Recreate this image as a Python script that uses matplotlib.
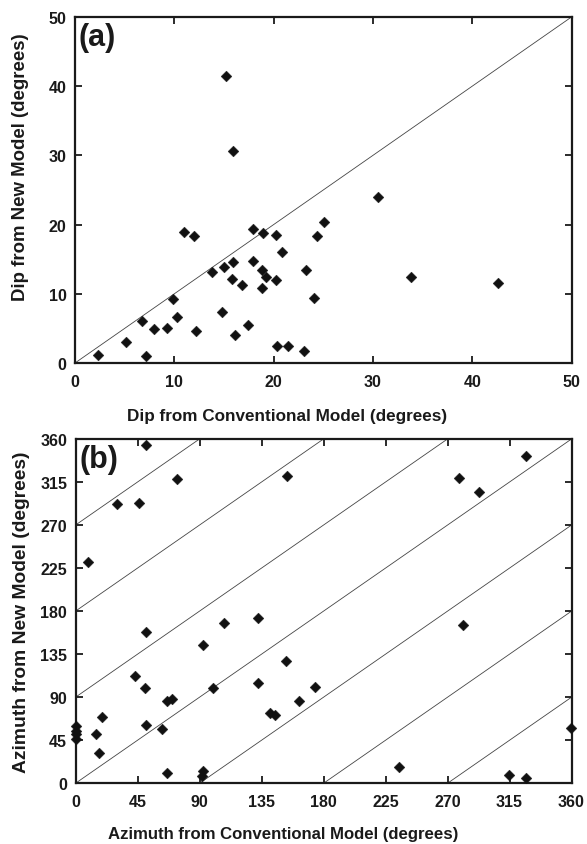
import matplotlib
matplotlib.use("Agg")
import matplotlib.pyplot as plt
import numpy as np

plt.rcParams['font.family'] = ['Liberation Sans', 'DejaVu Sans']

# Panel (a): dip values (degrees)
dip_conv = [2.35, 5.1, 7.2, 6.7, 8.0, 9.3, 9.9, 10.3, 10.95, 12.0, 12.2, 13.8, 14.8,
            15.0, 15.9, 15.85, 16.1, 16.8, 17.4, 17.9, 17.9, 18.85, 19.2, 18.85, 18.95,
            20.2, 20.2, 20.3, 20.8, 21.5, 23.1, 23.25, 24.05, 24.4, 25.1, 30.5, 33.8,
            42.6, 15.2, 15.95]
dip_new = [1.2, 3.1, 1.0, 6.0, 4.9, 5.0, 9.2, 6.7, 18.9, 18.4, 4.6, 13.2, 7.3,
           13.9, 14.6, 12.1, 4.1, 11.3, 5.5, 19.3, 14.8, 13.4, 12.5, 10.8, 18.8,
           18.5, 12.0, 2.5, 16.1, 2.4, 1.8, 13.5, 9.35, 18.4, 20.4, 24.0, 12.4,
           11.6, 41.5, 30.6]

# Panel (b): azimuth values (degrees)
az_conv = [51.2, 30.1, 45.8, 73.9, 153.2, 9.3, 107.8, 132.2, 51.2, 92.8, 153.0, 43.0,
           50.2, 100.0, 132.2, 174.0, 66.2, 69.8, 162.4, 141.1, 144.8, 19.0, 51.2,
           63.0, 14.9, 17.2, 0.4, 0.5, 0.4, 0.4, 66.2, 92.8, 91.8, 327.2, 278.1,
           293.0, 281.0, 359.6, 234.8, 314.8, 327.2]
az_new = [353.3, 292.0, 293.3, 318.0, 320.9, 231.6, 167.4, 173.3, 158.7, 144.7, 128.0,
          112.0, 99.4, 99.7, 104.6, 100.5, 85.8, 87.9, 86.4, 73.9, 71.1, 69.2, 61.3,
          56.5, 51.5, 32.0, 60.3, 55.0, 51.6, 46.4, 11.1, 13.2, 8.0, 342.5, 319.2,
          304.5, 165.3, 57.5, 17.4, 9.0, 5.2]

dip_ticks = [0, 10, 20, 30, 40, 50]
az_ticks = [0, 45, 90, 135, 180, 225, 270, 315, 360]
az_offsets = [-270, -180, -90, 0, 90, 180, 270]

W, H = 587, 845
fig = plt.figure(figsize=(W / 100, H / 100), dpi=100)

ax1 = fig.add_axes([75 / W, 1 - 364 / H, 496.5 / W, 346 / H])
ax2 = fig.add_axes([75.5 / W, 1 - 784.3 / H, 496 / W, 344.3 / H])

tick_kw = dict(direction='in', length=5, width=1.3, top=True, right=True,
               labelsize=11.5, colors='#1a1a1a')

def style(ax):
    for s in ax.spines.values():
        s.set_linewidth(1.6)
        s.set_color('#1a1a1a')
    ax.tick_params(axis='both', which='both', **tick_kw)
    ax.tick_params(axis='x', pad=8)
    ax.tick_params(axis='y', pad=6)
    for lab in ax.get_xticklabels() + ax.get_yticklabels():
        lab.set_fontweight('bold')

mk = dict(marker='D', s=30, color='#111111', linewidths=0.3, clip_on=False, zorder=3)

# Panel (a)
ax1.plot([0, 50], [0, 50], color='#444444', lw=0.6, zorder=1)
ax1.scatter(dip_conv, dip_new, **mk)
ax1.set_xlim(0, 50)
ax1.set_ylim(0, 50)
ax1.set_xticks(dip_ticks)
ax1.set_yticks(dip_ticks)
style(ax1)
ax1.set_xlabel('Dip from Conventional Model (degrees)', fontsize=12.3, fontweight='bold',
               color='#1a1a1a', va='center')
ax1.xaxis.set_label_coords(0.428, -0.152)
ax1.set_ylabel('Dip from New Model (degrees)', fontsize=13.4, fontweight='bold',
               color='#1a1a1a', va='center')
ax1.yaxis.set_label_coords(-0.109, 0.569)
ax1.text(0.008, 0.985, '(a)', transform=ax1.transAxes, fontsize=22, fontweight='bold',
         va='top', ha='left', color='#1a1a1a')

# Panel (b)
xs = np.array([0, 360])
for k in az_offsets:
    ax2.plot(xs, xs + k, color='#444444', lw=0.6, zorder=1)
ax2.scatter(az_conv, az_new, **mk)
ax2.set_xlim(0, 360)
ax2.set_ylim(0, 360)
ax2.set_xticks(az_ticks)
ax2.set_yticks(az_ticks)
style(ax2)
ax2.set_xlabel('Azimuth from Conventional Model (degrees)', fontsize=12.1, fontweight='bold',
               color='#1a1a1a', va='center')
ax2.xaxis.set_label_coords(0.419, -0.147)
ax2.set_ylabel('Azimuth from New Model (degrees)', fontsize=13.9, fontweight='bold',
               color='#1a1a1a', va='center')
ax2.yaxis.set_label_coords(-0.109, 0.5)
ax2.text(0.008, 0.985, '(b)', transform=ax2.transAxes, fontsize=22, fontweight='bold',
         va='top', ha='left', color='#1a1a1a')

fig.savefig('out.png', dpi=100)
